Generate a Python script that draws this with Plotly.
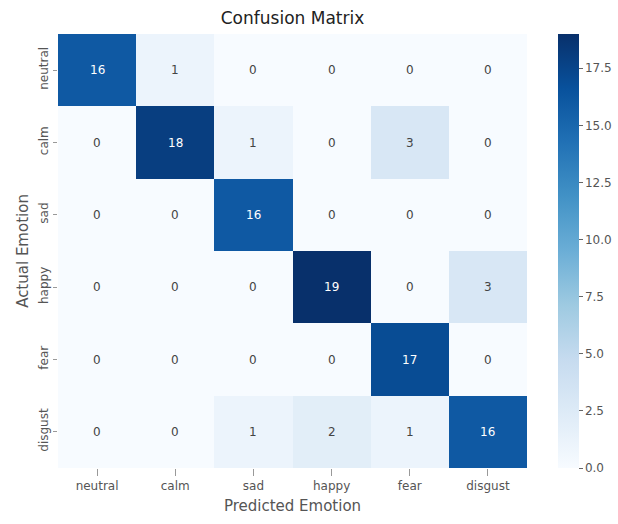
import plotly.graph_objects as go

emotions = ["neutral", "calm", "sad", "happy", "fear", "disgust"]

# rows = actual emotion, columns = predicted emotion
counts = [
    [16, 1, 0, 0, 0, 0],
    [0, 18, 1, 0, 3, 0],
    [0, 0, 16, 0, 0, 0],
    [0, 0, 0, 19, 0, 3],
    [0, 0, 0, 0, 17, 0],
    [0, 0, 1, 2, 1, 16],
]

cbar_ticks = [0.0, 2.5, 5.0, 7.5, 10.0, 12.5, 15.0, 17.5]

blues = [
    [0.000, "#f7fbff"], [0.125, "#deebf7"], [0.250, "#c6dbef"],
    [0.375, "#9ecae1"], [0.500, "#6baed6"], [0.625, "#4292c6"],
    [0.750, "#2171b5"], [0.875, "#08519c"], [1.000, "#08306b"],
]

zmin = 0
zmax = max(max(r) for r in counts)

fig = go.Figure(
    go.Heatmap(
        z=counts,
        x=emotions,
        y=emotions,
        colorscale=blues,
        zmin=zmin,
        zmax=zmax,
        colorbar=dict(
            x=1.066,
            xanchor="left",
            y=0.5,
            yanchor="middle",
            len=1.0,
            lenmode="fraction",
            ypad=0,
            xpad=0,
            thickness=21,
            outlinewidth=0,
            tickvals=cbar_ticks,
            ticktext=[f"{t:.1f}" for t in cbar_ticks],
            ticks="outside",
            ticklen=4,
            tickcolor="#666666",
            tickfont=dict(family="DejaVu Sans", size=12, color="#555555"),
        ),
        hoverinfo="skip",
    )
)

# Value labels: white on dark cells, dark on light cells
annotations = []
for i, row in enumerate(counts):
    for j, v in enumerate(row):
        frac = (v - zmin) / (zmax - zmin)
        annotations.append(
            dict(
                x=emotions[j],
                y=emotions[i],
                xref="x",
                yref="y",
                text=str(v),
                showarrow=False,
                font=dict(family="DejaVu Sans", size=12,
                          color="#ffffff" if frac > 0.45 else "#444444"),
            )
        )

fig.update_layout(
    width=618,
    height=524,
    margin=dict(l=58, r=91, t=34, b=56, autoexpand=False),
    paper_bgcolor="white",
    plot_bgcolor="white",
    font=dict(family="DejaVu Sans", color="#333333"),
    title=dict(
        text="Confusion Matrix",
        x=(58 + 527) / 2 / 618,
        xanchor="center",
        y=1 - 18 / 524,
        yanchor="middle",
        font=dict(family="DejaVu Sans", size=17, color="#222222"),
    ),
    annotations=annotations,
)

fig.update_xaxes(
    title=dict(text="Predicted Emotion", standoff=8,
               font=dict(family="DejaVu Sans", size=15, color="#555555")),
    ticks="outside",
    ticklen=7,
    tickcolor="#999999",
    tickfont=dict(family="DejaVu Sans", size=12, color="#555555"),
    showgrid=False,
    zeroline=False,
    showline=False,
)
fig.update_yaxes(
    title=dict(text="Actual Emotion", standoff=4,
               font=dict(family="DejaVu Sans", size=15, color="#555555")),
    autorange="reversed",
    ticks="outside",
    ticklen=4,
    tickcolor="#999999",
    tickangle=-90,
    tickfont=dict(family="DejaVu Sans", size=12, color="#555555"),
    showgrid=False,
    zeroline=False,
    showline=False,
)

fig.write_html("out.html")
